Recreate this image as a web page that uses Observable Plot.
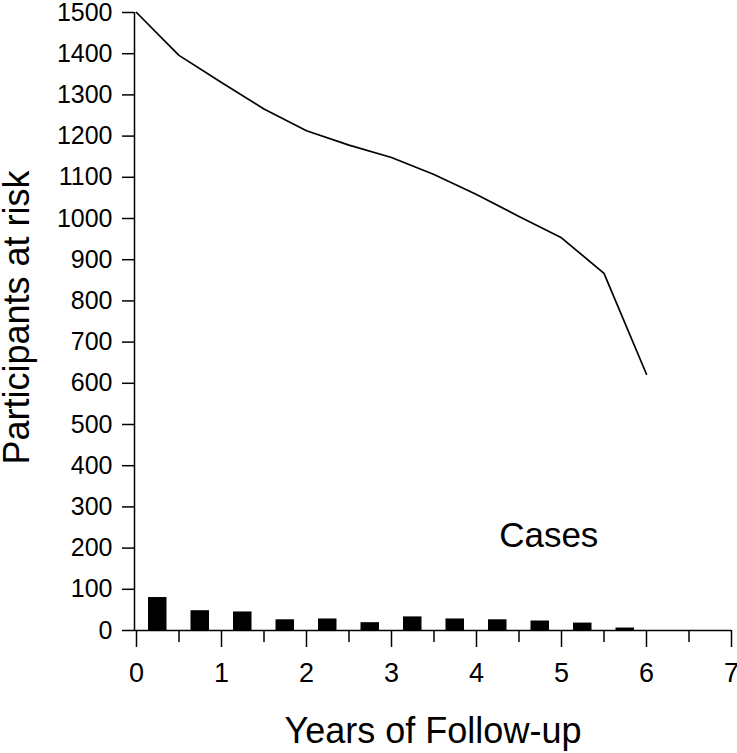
<!DOCTYPE html>
<html>
<head>
<meta charset="utf-8">
<script src="https://cdn.jsdelivr.net/npm/d3@7"></script>
<script src="https://cdn.jsdelivr.net/npm/@observablehq/plot@0.6"></script>
<style>
  html, body { margin: 0; padding: 0; background: #fff; }
  #chart svg { display: block; }
</style>
</head>
<body>
<div id="chart"></div>
<script>
// Participants at risk over follow-up (years)
const riskYears = [0, 0.5, 1, 1.5, 2, 2.5, 3, 3.5, 4, 4.5, 5, 5.5, 6];
const riskValues = [1500, 1396, 1330, 1266, 1213, 1178, 1148, 1107, 1058, 1005, 953, 867, 622];

// Cases per half-year interval (bar centres)
const caseYears = [0.25, 0.75, 1.25, 1.75, 2.25, 2.75, 3.25, 3.75, 4.25, 4.75, 5.25, 5.75];
const caseValues = [80, 48, 45, 26, 28, 19, 33, 28, 26, 23, 18, 6];

// Axis ticks
const xMajorTicks = [0, 1, 2, 3, 4, 5, 6, 7];
const xMinorTicks = [0.5, 1.5, 2.5, 3.5, 4.5, 5.5, 6.5];
const yTicks = [0, 100, 200, 300, 400, 500, 600, 700, 800, 900, 1000, 1100, 1200, 1300, 1400, 1500];

// Annotation
const annotationLabels = ["Cases"];
const annotationX = [4.85];
const annotationY = [230];

const xTitle = "Years of Follow-up";
const yTitle = "Participants at risk";

const risk = riskYears.map((t, i) => ({t, v: riskValues[i]}));
const cases = caseYears.map((t, i) => ({t, v: caseValues[i]}));
const notes = annotationLabels.map((label, i) => ({label, t: annotationX[i], v: annotationY[i]}));

const font = "'Liberation Sans', Arial, Helvetica, sans-serif";

const chart = Plot.plot({
  width: 737,
  height: 753,
  marginLeft: 134,
  marginRight: 6,
  marginTop: 12,
  marginBottom: 123,
  style: {fontFamily: font, color: "#000", background: "#fff"},
  x: {domain: [0, 7], range: [136, 731]},
  y: {domain: [0, 1500], range: [630, 12]},
  marks: [
    Plot.rectY(cases, {x: "t", y: "v", interval: 0.5, insetLeft: 12, insetRight: 12, fill: "#000"}),
    Plot.line(risk, {x: "t", y: "v", stroke: "#000", strokeWidth: 1.7}),
    Plot.ruleX([0], {y1: 0, y2: 1500, dx: -2, stroke: "#000", strokeWidth: 1.5}),
    Plot.ruleY([0], {stroke: "#000", strokeWidth: 1.5}),
    Plot.axisY({ticks: yTicks, tickSize: 12, tickPadding: 10, fontSize: 25, label: null, strokeWidth: 1.5, tickFormat: d => String(d)}),
    Plot.axisX({ticks: xMajorTicks, tickSize: 17, tickPadding: 15, fontSize: 27, label: null, strokeWidth: 1.5, tickFormat: d => String(d)}),
    Plot.axisX({ticks: xMinorTicks, tickSize: 12, text: null, label: null, strokeWidth: 1.5}),
    Plot.text(notes, {x: "t", y: "v", text: "label", fontSize: 35, lineAnchor: "middle", fill: "#000"}),
    Plot.text([xTitle], {frameAnchor: "bottom", textAnchor: "middle", lineAnchor: "middle", dy: 101, fontSize: 36, fill: "#000"}),
    Plot.text([yTitle], {frameAnchor: "left", textAnchor: "middle", lineAnchor: "middle", rotate: -90, dx: -117, dy: -4, fontSize: 36, fill: "#000"})
  ]
});

document.getElementById("chart").appendChild(chart);
</script>
</body>
</html>
